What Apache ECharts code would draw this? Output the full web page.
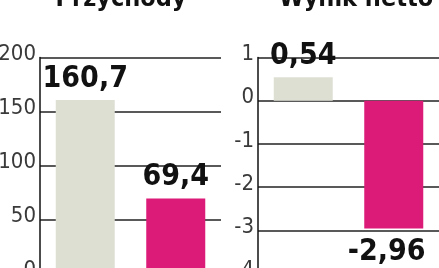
<!DOCTYPE html>
<html><head><meta charset="utf-8">
<script src="https://cdn.jsdelivr.net/npm/echarts@6/dist/echarts.min.js"></script>
<style>html,body{margin:0;padding:0;background:#fff}#c{width:439px;height:268px}</style>
</head><body><div id="c"></div>
<script>
const titles = ['Przychody', 'Wynik netto'];
const categories = ['2008', '2009'];
const revenue = [160.7, 69.4];
const netIncome = [0.54, -2.96];
const revenueTicks = [0, 50, 100, 150, 200];
const netTicks = [-4, -3, -2, -1, 0, 1];
const colors = ['#dedfd3', '#dc1a78'];

const fmt = v => String(v).replace('.', ',');
const chart = echarts.init(document.getElementById('c'));
const FAM = '"DejaVu Sans Condensed", "DejaVu Sans", sans-serif';
const axisFont = {fontFamily: FAM, fontSize: 22, color: '#3a3a3a'};
const labelFont = {fontFamily: FAM, fontWeight: 'bold', fontSize: 30, color: '#111'};

function yAxis(idx, ticks) {
  return {
    gridIndex: idx, type: 'value',
    min: ticks[0], max: ticks[ticks.length - 1], interval: ticks[1] - ticks[0],
    axisLine: {show: true, lineStyle: {color: '#111', width: 1.5}},
    axisTick: {show: false},
    splitLine: {show: true, lineStyle: {color: '#222', width: 1.5}},
    axisLabel: Object.assign({margin: 4, verticalAlign: 'bottom', lineHeight: 6}, axisFont)
  };
}
function series(idx, data) {
  return {
    type: 'bar', xAxisIndex: idx, yAxisIndex: idx, barWidth: 59,
    data: data.map((v, i) => ({
      value: v,
      itemStyle: {color: colors[i]},
      label: {show: true, position: v >= 0 ? 'top' : 'bottom', distance: v >= 0 ? 6 : 9,
        offset: v >= 0 ? [0, 0] : [-7, 0],
        formatter: p => fmt(p.value), ...labelFont}
    }))
  };
}
chart.setOption({
  animation: false,
  grid: [
    {left: 40, top: 57.5, width: 181, height: 216, outerBoundsMode: 'none', containLabel: false},
    {left: 258, top: 57.5, width: 181, height: 216, outerBoundsMode: 'none', containLabel: false}
  ],
  xAxis: [0, 1].map(i => ({gridIndex: i, type: 'category', data: categories, show: false})),
  yAxis: [yAxis(0, revenueTicks), yAxis(1, netTicks)],
  series: [series(0, revenue), series(1, netIncome)],
  graphic: [
    {type: 'text', x: 121, y: 12, style: {text: titles[0], align: 'center', verticalAlign: 'bottom',
      font: 'bold 25px ' + FAM, fill: '#111'}},
    {type: 'text', x: 356, y: 12, style: {text: titles[1], align: 'center', verticalAlign: 'bottom',
      font: 'bold 25px ' + FAM, fill: '#111'}}
  ]
});
</script></body></html>
